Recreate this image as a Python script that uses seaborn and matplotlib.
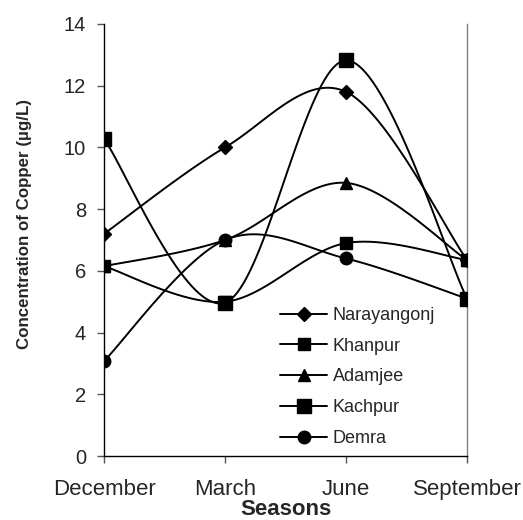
import numpy as np
import pandas as pd
import matplotlib
matplotlib.use("Agg")
import matplotlib.pyplot as plt
from matplotlib.lines import Line2D
import seaborn as sns

seasons = ["December", "March", "June", "September"]
narayangonj = [7.2, 10.0, 11.8, 6.35]
khanpur = [6.15, 5.0, 6.9, 6.35]
adamjee = [6.15, 7.0, 8.85, 6.35]
kachpur = [10.27, 4.97, 12.82, 5.1]
demra = [3.08, 7.0, 6.4, 5.1]

series_names = ["Narayangonj", "Khanpur", "Adamjee", "Kachpur", "Demra"]
series_values = [narayangonj, khanpur, adamjee, kachpur, demra]
markers = ["D", "s", "^", "s", "o"]
msizes = [7.5, 9, 9, 10, 9]

sns.set_theme(style="ticks")
plt.rcParams["font.family"] = ["Liberation Sans", "DejaVu Sans"]


def smooth(xv, yv, n=40):
    # Excel-style Bezier smoothing (Catmull-Rom control points)
    pts = np.column_stack([xv, yv]).astype(float)
    out = []
    for i in range(len(pts) - 1):
        p0 = pts[max(i - 1, 0)]
        p1 = pts[i]
        p2 = pts[i + 1]
        p3 = pts[min(i + 2, len(pts) - 1)]
        c1 = p1 + (p2 - p0) / 6.0
        c2 = p2 - (p3 - p1) / 6.0
        t = np.linspace(0, 1, n)[:, None]
        seg = ((1 - t) ** 3) * p1 + 3 * ((1 - t) ** 2) * t * c1 + 3 * (1 - t) * t ** 2 * c2 + t ** 3 * p2
        out.append(seg if i == 0 else seg[1:])
    arr = np.vstack(out)
    return arr[:, 0], arr[:, 1]


fig = plt.figure(figsize=(5.23, 5.20), dpi=100)
ax = fig.add_axes([0.199, 0.123, 0.694, 0.831])

xpos = np.arange(len(seasons))
handles = []
for name, vals, m, ms in zip(series_names, series_values, markers, msizes):
    sx, sy = smooth(xpos, vals)
    sns.lineplot(x=sx, y=sy, ax=ax, color="black", lw=1.4, sort=False, estimator=None)
    df = pd.DataFrame({"x": xpos, "y": vals})
    ax.plot(df["x"], df["y"], linestyle="none", marker=m, markersize=ms, color="black", zorder=5)
    handles.append(Line2D([0], [0], color="black", lw=1.4, marker=m, markersize=ms))

ax.set_xlim(0, 3)
ax.set_ylim(0, 14)
ax.set_yticks(np.arange(0, 15, 2))
ax.set_xticks(xpos)
ax.set_xticklabels(seasons)
ax.tick_params(axis="both", direction="out", length=5, width=1, color="#555555")
ax.tick_params(axis="y", labelsize=14.5, pad=8)
ax.tick_params(axis="x", labelsize=16, pad=11.5)

for s in ["left", "bottom"]:
    ax.spines[s].set_color("black")
    ax.spines[s].set_linewidth(1)
ax.spines["top"].set_visible(False)
ax.spines["right"].set_visible(True)
ax.spines["right"].set_color("#808080")
ax.spines["right"].set_linewidth(1)

ax.set_xlabel("Seasons", fontsize=16, fontweight="bold", labelpad=-1)
ax.set_ylabel("Concentration of Copper (µg/L)", fontsize=12.2, fontweight="bold")
ax.yaxis.set_label_coords(-0.198, 0.538)

ax.legend(handles, series_names, loc="upper left", bbox_to_anchor=(0.485, 0.345),
          frameon=False, fontsize=13, handlelength=2.6, handletextpad=0.3,
          labelspacing=0.76, borderpad=0, borderaxespad=0)

fig.savefig("out.png", dpi=100)
